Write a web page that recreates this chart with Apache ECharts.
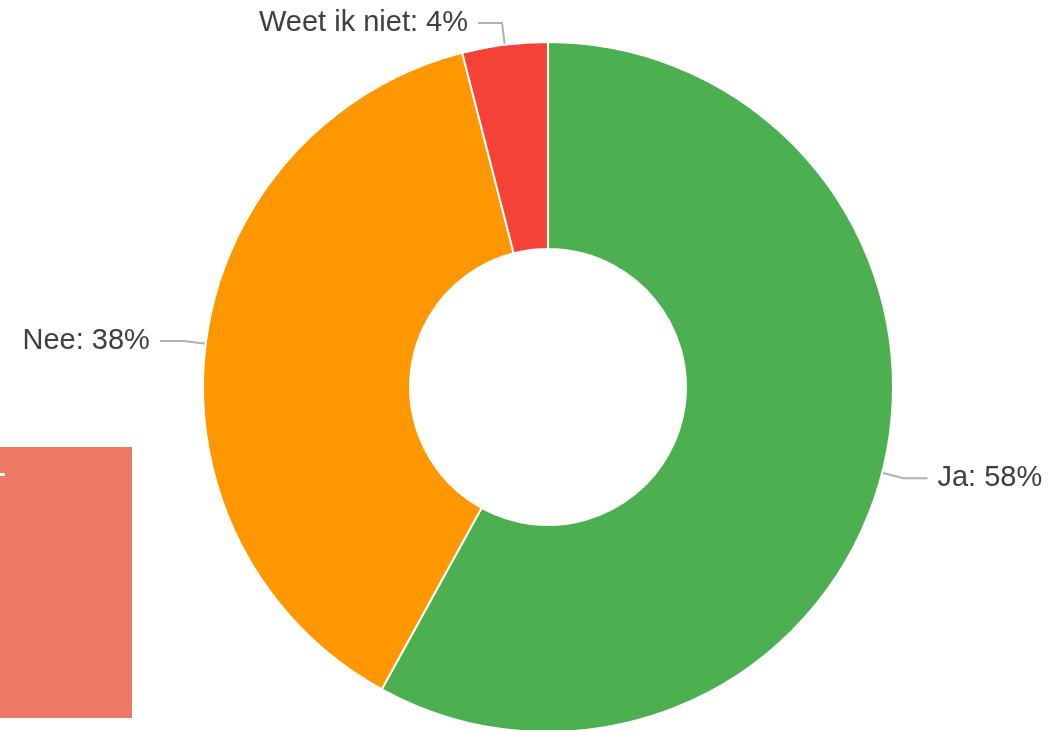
<!DOCTYPE html>
<html>
<head>
<meta charset="utf-8">
<style>
  html, body { margin: 0; padding: 0; background: #fff; }
  #main { width: 1056px; height: 730px; }
</style>
<script src="https://cdn.jsdelivr.net/npm/echarts@6/dist/echarts.min.js"></script>
</head>
<body>
<div id="main"></div>
<script>
// answers and their share (percent)
var categories = ['Ja', 'Nee', 'Weet ik niet'];
var values = [58, 38, 4];
var colors = ['#4caf50', '#ff9800', '#f44336'];

var chart = echarts.init(document.getElementById('main'));

var data = categories.map(function (name, i) {
    return { name: name, value: values[i], itemStyle: { color: colors[i] } };
});

chart.setOption({
    animation: false,
    backgroundColor: '#ffffff',
    graphic: [
        { type: 'rect', shape: { x: 0, y: 447, width: 132, height: 271 }, style: { fill: '#ec7865' } },
        { type: 'rect', shape: { x: 0, y: 473, width: 5, height: 3 }, style: { fill: '#ffffff' } }
    ],
    series: [{
        type: 'pie',
        center: [548, 387],
        radius: [138, 345],
        startAngle: 90,
        clockwise: true,
        data: data,
        itemStyle: { borderColor: '#ffffff', borderWidth: 2 },
        label: {
            formatter: '{b}: {d}%',
            color: '#404040',
            fontFamily: 'Liberation Sans, Arial, sans-serif',
            fontSize: 29,
            padding: [10, 0, 0, 0],
            distanceToLabelLine: 10
        },
        labelLine: {
            length: 22,
            length2: 24,
            lineStyle: { color: '#b0b0b0', width: 2 }
        }
    }]
});
</script>
</body>
</html>
